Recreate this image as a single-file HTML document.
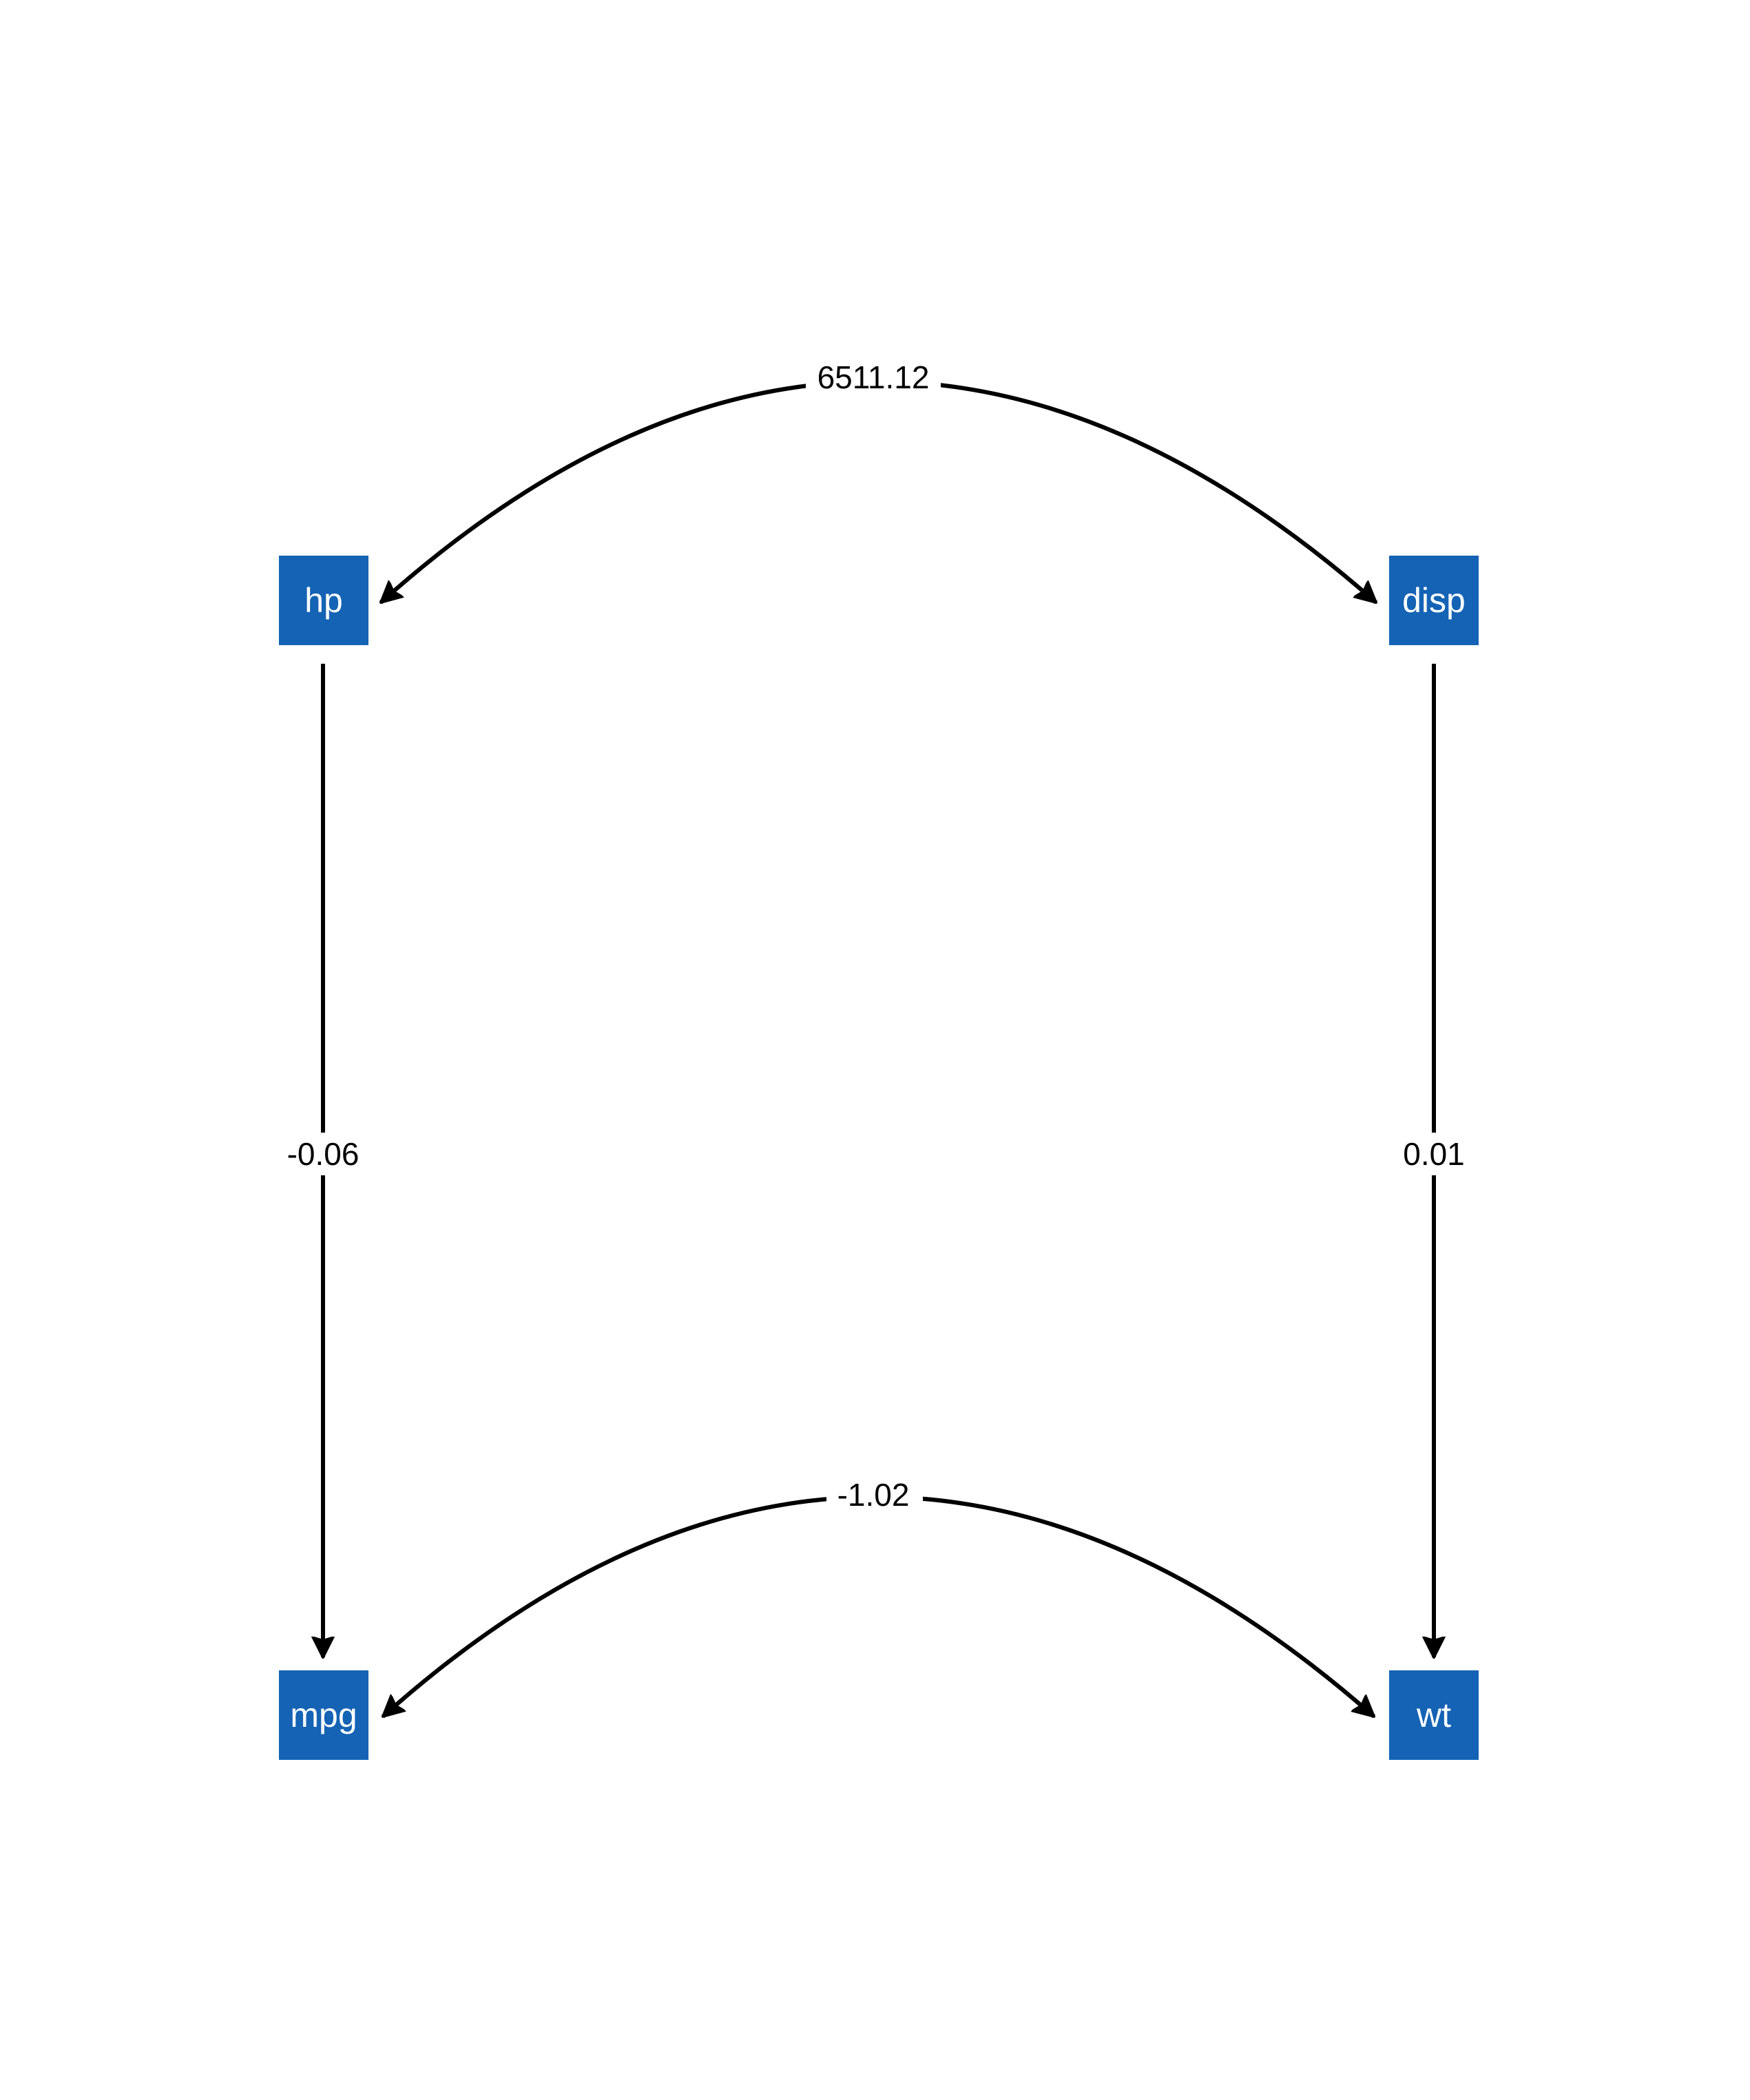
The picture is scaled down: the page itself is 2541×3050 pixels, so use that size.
<!DOCTYPE html>
<html><head><meta charset="utf-8"><style>
html,body{margin:0;padding:0;background:#fff;}
svg{display:block;}
</style></head><body>
<svg width="2541" height="3050" viewBox="0 0 2541 3050" xmlns="http://www.w3.org/2000/svg">
<defs>
<marker id="a" viewBox="0 0 32 34" refX="30" refY="17" markerWidth="32" markerHeight="34" orient="auto" markerUnits="userSpaceOnUse">
<path d="M0,1 L32,17 L0,33 L5,17 Z" fill="#000" stroke="#000" stroke-width="2" stroke-linejoin="round"/>
</marker>
</defs>
<g fill="none" stroke="#000" stroke-width="6">
<path d="M1998,875 Q1270,233 553,875" marker-end="url(#a)"/>
<path d="M553,875 Q1270,233 1998,875" marker-end="url(#a)"/>
<path d="M1995,2493 Q1270,1855 556,2493" marker-end="url(#a)"/>
<path d="M556,2493 Q1270,1855 1995,2493" marker-end="url(#a)"/>
<line x1="469" y1="964" x2="469" y2="2407" marker-end="url(#a)"/>
<line x1="2082" y1="964" x2="2082" y2="2407" marker-end="url(#a)"/>
</g>
<g fill="#fff">
<rect x="1170" y="516" width="196" height="64"/>
<rect x="1200" y="2140" width="140" height="62"/>
<rect x="405" y="1645" width="128" height="62"/>
<rect x="2025" y="1645" width="114" height="62"/>
</g>
<g font-family="Liberation Sans, sans-serif" font-size="46" text-anchor="middle" fill="#000">
<text x="1268" y="564">6511.12</text>
<text x="1268" y="2187">-1.02</text>
<text x="469" y="1692">-0.06</text>
<text x="2082" y="1692">0.01</text>
</g>
<g fill="#1463b5">
<rect x="405" y="807" width="130" height="130"/>
<rect x="2017" y="807" width="130" height="130"/>
<rect x="405" y="2426" width="130" height="130"/>
<rect x="2017" y="2426" width="130" height="130"/>
</g>
<g font-family="Liberation Sans, sans-serif" font-size="50" text-anchor="middle" fill="#fff">
<text x="470" y="889">hp</text>
<text x="2082" y="889">disp</text>
<text x="470" y="2508">mpg</text>
<text x="2082" y="2508">wt</text>
</g>
</svg>
</body></html>
